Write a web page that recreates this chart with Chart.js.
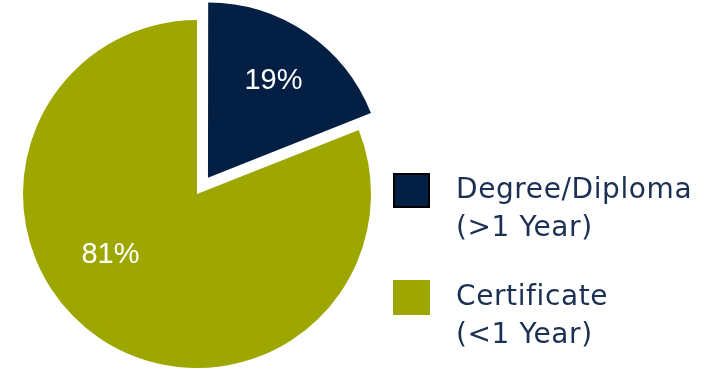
<!DOCTYPE html>
<html>
<head>
<meta charset="utf-8">
<script src="https://cdn.jsdelivr.net/npm/chart.js@4.4.0/dist/chart.umd.min.js"></script>
<style>
  body { margin: 0; background: #fff; width: 713px; height: 372px; overflow: hidden; position: relative; }
  #pie { position: absolute; left: 0; top: 0; }
  .legend-item { position: absolute; left: 393px; }
  .box { position: absolute; left: 0; width: 37px; height: 35px; box-sizing: border-box; }
  .text { position: absolute; left: 63px; white-space: nowrap; font-family: "DejaVu Sans", sans-serif;
          font-size: 28px; line-height: 38px; color: #1b3052; letter-spacing: 0.6px; }
</style>
</head>
<body>
<canvas id="pie" width="394" height="388"></canvas>
<div id="legend"></div>
<script>
// chart data
var categories = ['Degree/Diploma', 'Certificate'];
var subLabels = ['(>1 Year)', '(<1 Year)'];
var shares = [19, 81];
var colors = ['#031f44', '#9ea700'];

// white percentage labels drawn inside the slices
var sliceLabels = {
  id: 'sliceLabels',
  afterDatasetsDraw: function (chart, args, opts) {
    var ctx = chart.ctx;
    var meta = chart.getDatasetMeta(0);
    var total = shares.reduce(function (a, b) { return a + b; }, 0);
    ctx.save();
    ctx.fillStyle = '#ffffff';
    ctx.font = '29px "Liberation Sans", Arial, sans-serif';
    ctx.textAlign = 'center';
    ctx.textBaseline = 'middle';
    meta.data.forEach(function (arc, i) {
      var p = arc.getProps(['x', 'y', 'startAngle', 'endAngle', 'outerRadius'], true);
      var mid = (p.startAngle + p.endAngle) / 2;
      var shift = (arc.options.offset || 0) / 4;
      var a = p.startAngle + opts.angleFrac[i] * (p.endAngle - p.startAngle);
      var r = opts.radiusFrac[i] * p.outerRadius;
      var x = p.x + Math.cos(mid) * shift + Math.cos(a) * r;
      var y = p.y + Math.sin(mid) * shift + Math.sin(a) * r;
      ctx.fillText(Math.round(shares[i] / total * 100) + '%', x, y);
    });
    ctx.restore();
  }
};

var ctx = document.getElementById('pie').getContext('2d');
var chart = new Chart(ctx, {
  type: 'pie',
  data: {
    labels: categories,
    datasets: [{
      data: shares,
      backgroundColor: colors,
      borderWidth: 0,
      offset: [78, 0]
    }]
  },
  options: {
    responsive: false,
    animation: false,
    radius: 174,
    layout: { padding: 0 },
    plugins: {
      legend: { display: false },
      tooltip: { enabled: false },
      sliceLabels: { angleFrac: [0.5, 0.57], radiusFrac: [0.67, 0.61] }
    }
  },
  plugins: [sliceLabels]
});

// legend on the right
var legend = document.getElementById('legend');
var tops = [173, 280];
categories.forEach(function (name, i) {
  var item = document.createElement('div');
  item.className = 'legend-item';
  item.style.top = tops[i] + 'px';
  var box = document.createElement('div');
  box.className = 'box';
  box.style.background = colors[i];
  if (i === 0) box.style.border = '2px solid #000';
  var text = document.createElement('div');
  text.className = 'text';
  text.style.top = '-3px';
  text.innerHTML = name + '<br>' + subLabels[i].replace('<', '&lt;').replace('>', '&gt;');
  item.appendChild(box);
  item.appendChild(text);
  legend.appendChild(item);
});
</script>
</body>
</html>
